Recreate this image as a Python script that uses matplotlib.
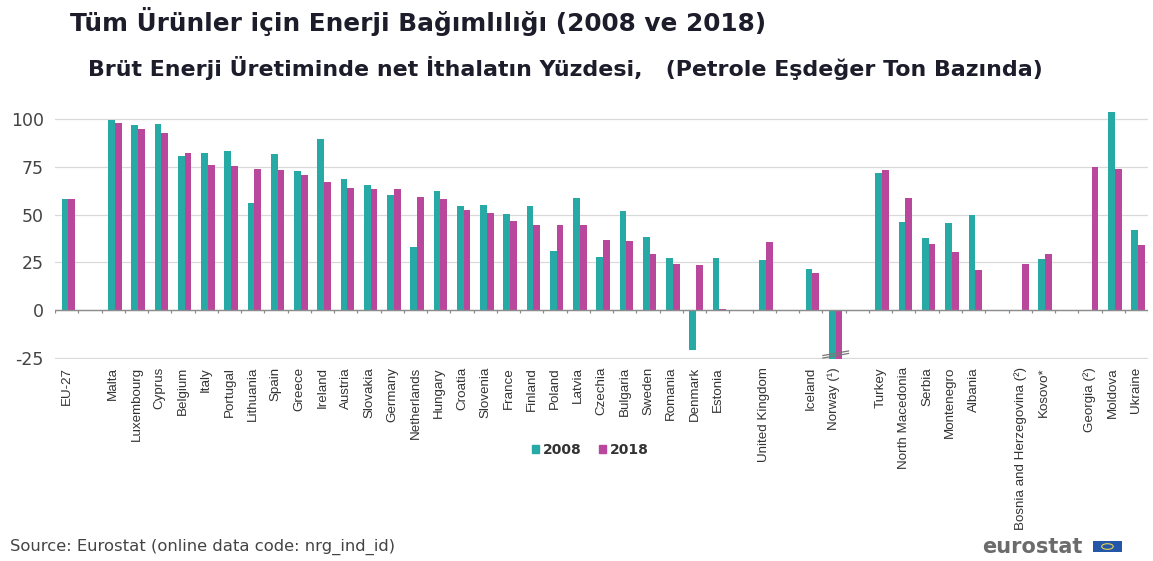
import numpy as np
import matplotlib.pyplot as plt
from matplotlib.patches import Rectangle, Patch

plt.rcParams['axes.unicode_minus'] = False

# categories ('' = empty gap slot)
countries = ['EU-27', '', 'Malta', 'Luxembourg', 'Cyprus', 'Belgium', 'Italy', 'Portugal',
             'Lithuania', 'Spain', 'Greece', 'Ireland', 'Austria', 'Slovakia', 'Germany',
             'Netherlands', 'Hungary', 'Croatia', 'Slovenia', 'France', 'Finland', 'Poland',
             'Latvia', 'Czechia', 'Bulgaria', 'Sweden', 'Romania', 'Denmark', 'Estonia', '',
             'United Kingdom', '', 'Iceland', 'Norway (¹)', '', 'Turkey', 'North Macedonia',
             'Serbia', 'Montenegro', 'Albania', '', 'Bosnia and Herzegovina (²)', 'Kosovo*', '',
             'Georgia (²)', 'Moldova', 'Ukraine']

# values in %, None = no data / gap
val_2008 = [58.2, None, 99.7, 97.2, 97.6, 80.8, 82.5, 83.4,
            55.9, 81.8, 72.9, 89.7, 68.7, 65.6, 60.5,
            33.2, 62.2, 54.7, 55.1, 50.3, 54.4, 30.8,
            58.6, 27.6, 51.9, 38.1, 27.4, -21.0, 27.3, None,
            26.2, None, 21.3, -520.0, None, 72.0, 46.3,
            37.6, 45.8, 49.8, None, None, 26.7, None,
            None, 104.0, 42.0]
val_2018 = [58.2, None, 97.9, 95.1, 92.7, 82.2, 76.2, 75.5,
            74.1, 73.4, 70.6, 67.3, 63.8, 63.5, 63.6,
            59.4, 58.0, 52.4, 51.0, 46.5, 44.8, 44.8,
            44.4, 36.7, 36.2, 29.2, 24.3, 23.4, 0.7, None,
            35.5, None, 19.2, -570.0, None, 73.4, 58.6,
            34.4, 30.6, 21.0, None, 24.1, 29.2, None,
            75.2, 73.8, 34.1]

c2008 = '#27aaa6'
c2018 = '#b9489c'

def clean(v):
    return np.array([np.nan if x is None else x for x in v], dtype=float)

y08 = clean(val_2008)
y18 = clean(val_2018)
x = np.arange(len(countries))
w = 0.29

fig = plt.figure(figsize=(11.53, 5.61), dpi=100)
ax = fig.add_axes([0.0477, 0.3608, 0.948, 0.4538])

ax.bar(x - w / 2 + 0.07, y08, width=w, color=c2008, zorder=2)
ax.bar(x + w / 2 + 0.07, y18, width=w, color=c2018, zorder=2)

ax.set_xlim(-0.5, len(countries) - 0.5)
ax.set_ylim(-25.5, 108)
ax.set_yticks([-25, 0, 25, 50, 75, 100])
ax.grid(axis='y', color='#d9d9d9', linewidth=0.9, zorder=0)
ax.axhline(0, color='#8c8c8c', linewidth=1.0, zorder=3)
for s in ax.spines.values():
    s.set_visible(False)

# small tick marks on the zero line at category boundaries
edges = np.arange(len(countries) + 1) - 0.5
ax.vlines(edges, -1.6, 0, color='#8c8c8c', linewidth=0.9, zorder=3)

ax.set_xticks(x)
ax.set_xticklabels(countries, rotation=90, va='top', ha='center',
                   family='Liberation Sans', fontsize=9.6, color='#333333')
ax.tick_params(axis='x', length=0, pad=6)
ax.tick_params(axis='y', length=0, pad=8, labelsize=12.5, labelcolor='#444444')

# axis break marks on Norway bars
nx = countries.index('Norway (¹)') + 0.07
for dy in (0.0, 1.3):
    ax.plot([nx - 0.55, nx + 0.55], [-25.2 + dy, -22.8 + dy], color='#777777',
            linewidth=0.9, clip_on=False, zorder=4)

# titles
fig.text(0.061, 0.962, 'Tüm Ürünler için Enerji Bağımlılığı (2008 ve 2018)',
         family='DejaVu Sans', fontweight='bold', fontsize=17.8, color='#1c1c2a', va='center')
fig.text(0.076, 0.879, 'Brüt Enerji Üretiminde net İthalatın Yüzdesi,   (Petrole Eşdeğer Ton Bazında)',
         family='DejaVu Sans', fontweight='bold', fontsize=15.9, color='#1c1c2a', va='center')

# legend
handles = [Patch(color=c2008, label='2008'), Patch(color=c2018, label='2018')]
leg = fig.legend(handles=handles, loc='center', bbox_to_anchor=(0.512, 0.198), ncol=2,
                 frameon=False, handlelength=0.5, handleheight=0.5, handletextpad=0.3,
                 columnspacing=1.2, prop={'family': 'DejaVu Sans', 'weight': 'bold', 'size': 10})
for t in leg.get_texts():
    t.set_color('#333333')

# source and logo
fig.text(0.009, 0.025, 'Source: Eurostat (online data code: nrg_ind_id)',
         family='DejaVu Sans', fontsize=11.8, color='#444444', va='center')
fig.text(0.852, 0.025, 'eurostat', family='DejaVu Sans', fontweight='bold',
         fontsize=15, color='#6b6b6b', va='center')
fig.patches.append(Rectangle((0.948, 0.016), 0.025, 0.0196, transform=fig.transFigure,
                             facecolor='#2457a8', edgecolor='none'))
fig.patches.append(plt.Circle((0.9605, 0.0258), 0.005, transform=fig.transFigure,
                              facecolor='none', edgecolor='#e8d44d', linewidth=0.8))

fig.savefig('out.png', dpi=100)
